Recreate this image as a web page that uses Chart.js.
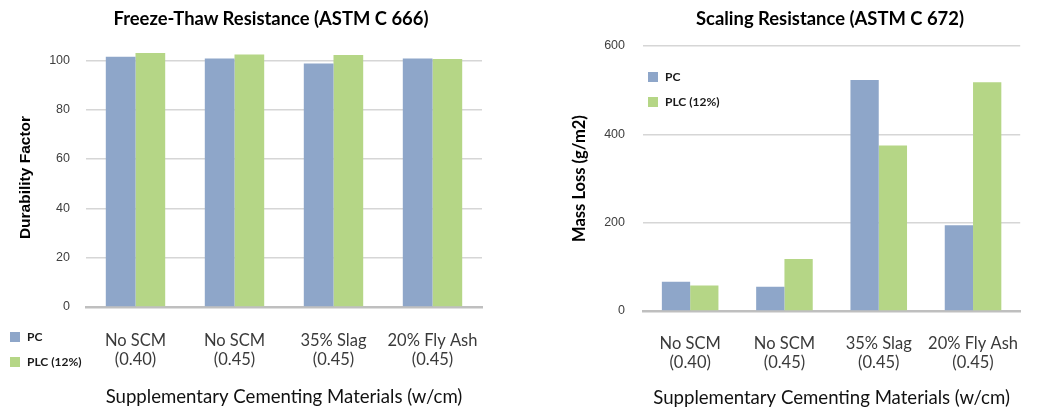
<!DOCTYPE html>
<html>
<head>
<meta charset="utf-8">
<script src="https://cdn.jsdelivr.net/npm/chart.js@4"></script>
<style>
  html, body { margin: 0; padding: 0; background: #fff; }
  #wrap { position: relative; width: 1042px; height: 412px; overflow: hidden; }
  canvas { position: absolute; top: 0; }
  .title { position: absolute; font: bold 18.4px Lato, sans-serif; color: #000; white-space: nowrap; transform: translate(-50%, -50%); }
  .legend { position: absolute; font: bold 12px Lato, sans-serif; color: #1a1a1a; }
  .legend .row { display: flex; align-items: center; height: 25px; }
  .legend .sw { width: 10px; height: 10px; margin-right: 7px; }
</style>
</head>
<body>
<div id="wrap">
  <canvas id="freeze" width="540" height="412" style="left:0"></canvas>
  <canvas id="scaling" width="502" height="412" style="left:540px"></canvas>
  <div class="title" style="left:271px; top:18px">Freeze-Thaw Resistance (ASTM C 666)</div>
  <div class="title" style="left:830px; top:18px">Scaling Resistance (ASTM C 672)</div>
  <div class="legend" id="legendLeft" style="left:10px; top:324px"></div>
  <div class="legend" id="legendRight" style="left:648px; top:64px"></div>
</div>
<script>
const categories = [['No SCM', '(0.40)'], ['No SCM', '(0.45)'], ['35% Slag', '(0.45)'], ['20% Fly Ash', '(0.45)']];
const seriesNames = ['PC', 'PLC (12%)'];
const seriesColors = ['#8ea6c9', '#b5d686'];

const durabilityPC = [101.5, 100.7, 98.7, 100.7];
const durabilityPLC = [103.0, 102.4, 102.2, 100.5];
const durabilityTicks = [0, 20, 40, 60, 80, 100];

const massLossPC = [66, 55, 523, 194];
const massLossPLC = [58, 118, 375, 518];
const massLossTicks = [0, 200, 400, 600];

const xTitle = 'Supplementary Cementing Materials (w/cm)';

// legend in html, the chart ones can't sit there
function buildLegend(el) {
  seriesNames.forEach((name, i) => {
    const row = document.createElement('div');
    row.className = 'row';
    const sw = document.createElement('span');
    sw.className = 'sw';
    sw.style.background = seriesColors[i];
    row.appendChild(sw);
    row.appendChild(document.createTextNode(name));
    el.appendChild(row);
  });
}
buildLegend(document.getElementById('legendLeft'));
buildLegend(document.getElementById('legendRight'));

function makeChart(canvas, cfg) {
  return new Chart(canvas, {
    type: 'bar',
    data: {
      labels: categories,
      datasets: [
        { label: seriesNames[0], data: cfg.pc, backgroundColor: seriesColors[0] },
        { label: seriesNames[1], data: cfg.plc, backgroundColor: seriesColors[1] }
      ]
    },
    options: {
      responsive: false,
      animation: false,
      devicePixelRatio: 1,
      layout: { padding: cfg.padding },
      datasets: { bar: { categoryPercentage: 0.6, barPercentage: 1.0 } },
      plugins: { legend: { display: false }, title: { display: false }, tooltip: { enabled: false } },
      scales: {
        x: {
          grid: { display: false, drawTicks: false },
          border: { display: true, color: '#bfbfbf', width: 2.5 },
          ticks: {
            color: '#3a3a3a',
            padding: cfg.xTickPad,
            maxRotation: 0,
            autoSkip: false,
            font: { family: 'Lato', size: 16.5, lineHeight: 1.1 }
          },
          title: {
            display: true,
            text: xTitle,
            color: '#111',
            font: { family: 'Lato', size: 18.6, lineHeight: 1.2 },
            padding: { top: 0, bottom: cfg.xTitlePad }
          },
          afterFit: (s) => { s.height = cfg.xHeight; }
        },
        y: {
          min: 0,
          max: cfg.max,
          afterBuildTicks: (axis) => { axis.ticks = cfg.ticks.map(v => ({ value: v })); },
          grid: {
            drawTicks: false,
            lineWidth: 1.5,
            color: (ctx) => ctx.tick && ctx.tick.value === 0 ? 'rgba(0,0,0,0)' : '#d6d6d6'
          },
          border: { display: false },
          ticks: {
            color: '#404040',
            padding: cfg.yTickPad,
            font: { family: 'Liberation Sans', size: 12.5 }
          },
          title: {
            display: true,
            text: cfg.yTitle,
            color: '#000',
            font: cfg.yTitleFont,
            padding: { top: cfg.yTitlePad, bottom: 0 }
          },
          afterFit: (s) => { s.width = cfg.yWidth; }
        }
      }
    }
  });
}

makeChart(document.getElementById('freeze'), {
  pc: durabilityPC,
  plc: durabilityPLC,
  max: 105,
  ticks: durabilityTicks,
  yTitle: 'Durability Factor',
  yTitleFont: { family: 'Liberation Sans', size: 15.5, weight: 'bold', lineHeight: 1.2 },
  yTitlePad: 16,
  yTickPad: 16,
  yWidth: 86,
  xTickPad: 25,
  xTitlePad: 4,
  xHeight: 105,
  padding: { top: 48, right: 58, left: 0, bottom: 0 }
});

makeChart(document.getElementById('scaling'), {
  pc: massLossPC,
  plc: massLossPLC,
  max: 600,
  ticks: massLossTicks,
  yTitle: 'Mass Loss (g/m2)',
  yTitleFont: { family: 'Lato', size: 16.5, weight: 'bold', lineHeight: 1.2 },
  yTitlePad: 30,
  yTickPad: 18,
  yWidth: 103,
  xTickPad: 24,
  xTitlePad: 3,
  xHeight: 101,
  padding: { top: 46, right: 0, left: 0, bottom: 0 }
});
</script>
</body>
</html>
